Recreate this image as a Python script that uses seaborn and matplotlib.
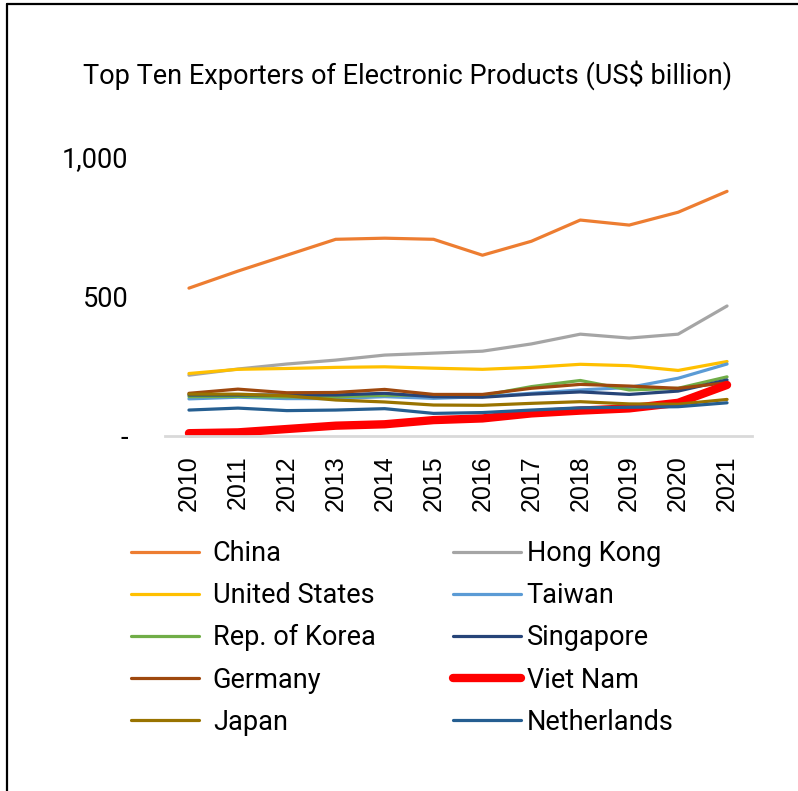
import matplotlib
matplotlib.use("Agg")
import matplotlib.pyplot as plt
from matplotlib.lines import Line2D
from matplotlib.ticker import FixedLocator, FixedFormatter
import seaborn as sns
import pandas as pd

# Export values, US$ billion
years = [str(y) for y in range(2010, 2022)]
china = [530, 591, 648, 705, 709, 705, 648, 698, 774, 756, 802, 877]
hong_kong = [218, 240, 258, 272, 290, 297, 304, 330, 365, 351, 365, 466]
united_states = [224, 239, 242, 246, 248, 243, 239, 246, 257, 252, 235, 267]
taiwan = [133, 139, 134, 134, 141, 135, 141, 153, 165, 174, 207, 258]
korea = [141, 142, 140, 141, 146, 146, 145, 177, 199, 165, 171, 212]
singapore = [147, 147, 147, 147, 153, 141, 139, 150, 158, 149, 161, 201]
germany = [153, 168, 155, 156, 167, 149, 149, 171, 185, 179, 171, 191]
viet_nam = [10, 13, 25, 37, 42, 57, 63, 81, 91, 99, 119, 183]
japan = [150, 150, 144, 129, 122, 111, 110, 117, 123, 115, 114, 131]
netherlands = [93, 100, 91, 93, 98, 81, 84, 93, 101, 103, 105, 119]

series = {
    "China": china,
    "Hong Kong": hong_kong,
    "United States": united_states,
    "Taiwan": taiwan,
    "Rep. of Korea": korea,
    "Singapore": singapore,
    "Germany": germany,
    "Viet Nam": viet_nam,
    "Japan": japan,
    "Netherlands": netherlands,
}
colors = {
    "China": "#ED7D31",
    "Hong Kong": "#A5A5A5",
    "United States": "#FFC000",
    "Taiwan": "#5B9BD5",
    "Rep. of Korea": "#70AD47",
    "Singapore": "#264478",
    "Germany": "#9E480E",
    "Viet Nam": "#FF0000",
    "Japan": "#997300",
    "Netherlands": "#255E91",
}

sns.set_theme(style="white")
plt.rcParams["font.family"] = ["Roboto", "DejaVu Sans"]
plt.rcParams["text.color"] = "black"
plt.rcParams["xtick.color"] = "black"
plt.rcParams["ytick.color"] = "black"

fig = plt.figure(figsize=(7.98, 7.91), dpi=100)
W, H = 798, 791
ax = fig.add_axes([164.5 / W, 1 - 436 / H, (751.5 - 164.5) / W, (436 - 157) / H])

x_pos = list(range(len(years)))
handles = {}
for name, vals in series.items():
    df = pd.DataFrame({"x": x_pos, "v": vals})
    lw = 6.0 if name == "Viet Nam" else 2.3
    sns.lineplot(data=df, x="x", y="v", ax=ax, color=colors[name], linewidth=lw,
                 solid_capstyle="round", legend=False)
    handles[name] = Line2D([0], [0], color=colors[name], linewidth=lw,
                           solid_capstyle="round")

ax.set_xlim(-0.5, len(years) - 0.5)
ax.set_ylim(0, 1000)
ax.set_xlabel("")
ax.set_ylabel("")
ax.set_xticks(x_pos)
ax.set_xticklabels(years, rotation=90, fontsize=18, family="Liberation Sans")
ax.yaxis.set_major_locator(FixedLocator([0, 500, 1000]))
ax.yaxis.set_major_formatter(FixedFormatter(["-", "500", "1,000"]))
ax.tick_params(axis="y", labelsize=19.5, length=0, pad=26, labelcolor="black")
ax.tick_params(axis="x", length=0, pad=14, labelcolor="black")
for s in ["top", "right", "left"]:
    ax.spines[s].set_visible(False)
ax.spines["bottom"].set_color("#D9D9D9")
ax.spines["bottom"].set_linewidth(2)
for ln in ax.lines:
    ln.set_clip_on(False)

fig.text(408 / W, 1 - 75 / H, "Top Ten Exporters of Electronic Products (US$ billion)",
         ha="center", va="center", fontsize=19.5, color="black")

left_names = ["China", "United States", "Rep. of Korea", "Germany", "Japan"]
right_names = ["Hong Kong", "Taiwan", "Singapore", "Viet Nam", "Netherlands"]
common = dict(loc="upper left", frameon=False, fontsize=19.5, borderpad=0,
              borderaxespad=0, handlelength=2.5, labelspacing=0.56,
              labelcolor="black", bbox_transform=fig.transFigure)
leg1 = fig.legend([handles[n] for n in left_names], left_names, handletextpad=0.52,
                  bbox_to_anchor=(131 / W, 1 - 540 / H), **common)
leg2 = fig.legend([handles[n] for n in right_names], right_names, handletextpad=0.22,
                  bbox_to_anchor=(453 / W, 1 - 540 / H), **common)

# Frame lines along the top and left edges
fig.add_artist(Line2D([7 / W, 7 / W], [0, 1 - 4 / H], transform=fig.transFigure,
                      color="black", linewidth=1.6))
fig.add_artist(Line2D([7 / W, 1], [1 - 4 / H, 1 - 4 / H], transform=fig.transFigure,
                      color="black", linewidth=1.6))

fig.savefig("out.png", dpi=100, facecolor="white")
